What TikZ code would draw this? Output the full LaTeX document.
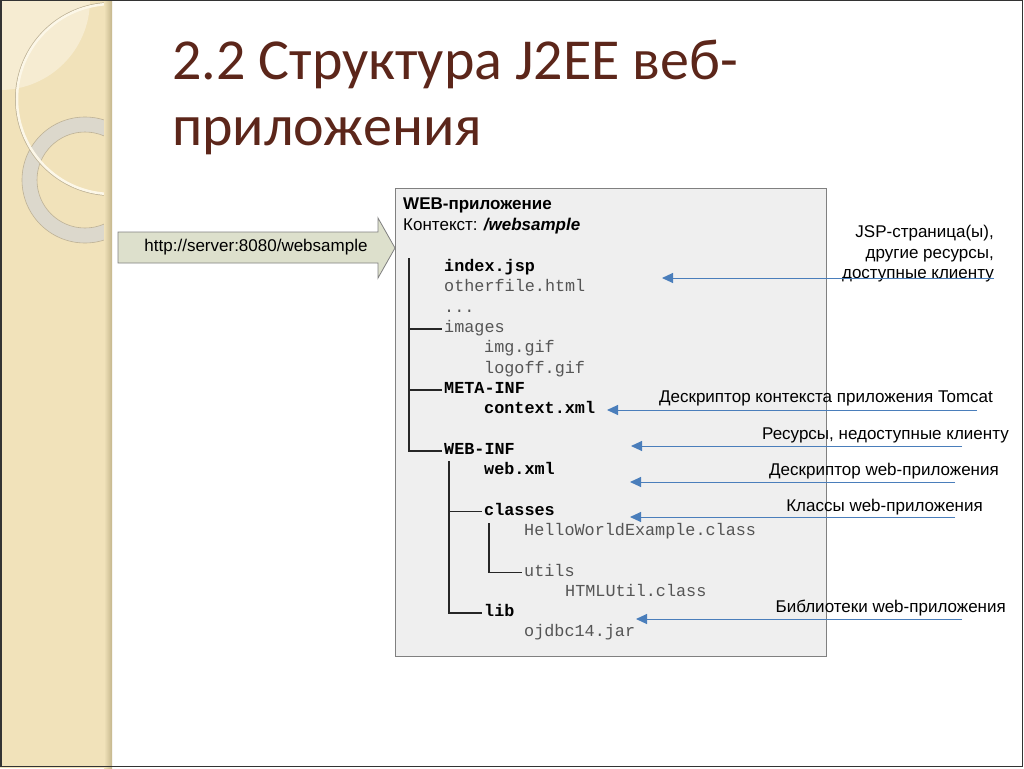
\documentclass[tikz,border=0pt]{standalone}
\usepackage{fontspec}
\setmainfont{Liberation Sans}
\setmonofont{Liberation Mono}
\newfontfamily\titlefont{Carlito}
\usetikzlibrary{arrows.meta}

\definecolor{sidebar}{RGB}{241,226,186}
\definecolor{sideshade}{RGB}{196,182,140}
\definecolor{cornerlight}{RGB}{246,236,210}
\definecolor{ringgray}{RGB}{220,216,204}
\definecolor{ringedge}{RGB}{190,178,150}
\definecolor{ringcream}{RGB}{252,247,232}
\definecolor{titlebrown}{RGB}{92,38,26}
\definecolor{boxfill}{RGB}{239,239,239}
\definecolor{boxline}{RGB}{128,128,128}
\definecolor{urlfill}{RGB}{221,224,204}
\definecolor{filegray}{RGB}{85,85,85}
\definecolor{ptrblue}{RGB}{74,126,187}

\begin{document}
\begin{tikzpicture}[
    x=1pt, y=-1pt,
    title text/.style={anchor=base west, inner sep=0pt, text=titlebrown, font=\titlefont\fontsize{58}{64}\selectfont},
    file node/.style={anchor=west, inner sep=0pt, text height=11pt, text depth=4pt, text=filegray, font=\ttfamily\fontsize{16.8}{20}\selectfont},
    dir node/.style={file node, text=black, font=\ttfamily\bfseries\fontsize{16.8}{20}\selectfont},
    note node/.style={anchor=east, inner sep=0pt, align=right, font=\fontsize{17}{20.5}\selectfont},
    tree line/.style={draw=black!85, line width=1.6pt},
    pointer/.style={draw=ptrblue, line width=1pt, -{Triangle[length=11pt,width=10pt]}},
]
    \useasboundingbox (0,0) rectangle (1024,768);
    \fill[white] (0,0) rectangle (1024,768);

    % decorated side strip
    \fill[sidebar] (0,0) rectangle (112,768);
    \begin{scope}
        \clip (0,0) rectangle (107,768);
        \fill[cornerlight] (0,0) circle (90);
        \fill[ringgray, even odd rule] (85,180) circle (63) (85,180) circle (48);
        \draw[ringedge, line width=0.6pt] (85,180) circle (63) (85,180) circle (48);
        \draw[ringedge, line width=1pt] (112,99) circle (96.5);
        \draw[ringcream, line width=2.5pt] (112,99) circle (95);
    \end{scope}
    \shade[left color=sidebar, right color=sideshade] (104,0) rectangle (112,768);
    \draw[black!80, line width=1.5pt] (0.75,0.75) rectangle (1022.5,766.5);

    % title
    \node[title text] (t1) at (172,79) {2.2 Структура J2EE веб-};
    \node[title text] (t2) at (172,145) {приложения};

    % request arrow
    \draw[boxline, fill=urlfill, line width=0.8pt]
        (118,232) -- (378,232) -- (378,218) -- (395,248) -- (378,278) -- (378,263) -- (118,263) -- cycle;
    \node[font=\fontsize{17}{18}\selectfont] (url) at (256,247) {http://server:8080/websample};

    % application box
    \draw[boxline, fill=boxfill, line width=0.8pt] (395,188) rectangle (826,656);
    \node[anchor=west, inner sep=0pt, font=\bfseries\fontsize{17}{18}\selectfont] (app) at (403,205) {WEB-приложение};
    \node[anchor=west, inner sep=0pt, font=\fontsize{17}{18}\selectfont] (ctxname) at (403,226) {Контекст: \textbf{\textit{/websample}}};

    % directory tree
    \node[dir node]  (idx)      at (444,268.0) {index.jsp};
    \node[file node] (other)    at (444,288.3) {otherfile.html};
    \node[file node] (dots)     at (444,308.6) {...};
    \node[file node] (images)   at (444,328.9) {images};
    \node[file node] (img)      at (484,349.2) {img.gif};
    \node[file node] (logoff)   at (484,369.5) {logoff.gif};
    \node[dir node]  (meta)     at (444,389.8) {META-INF};
    \node[dir node]  (ctx)      at (484,410.1) {context.xml};
    \node[dir node]  (webinf)   at (444,450.7) {WEB-INF};
    \node[dir node]  (webxml)   at (484,471.0) {web.xml};
    \node[dir node]  (classes)  at (484,511.6) {classes};
    \node[file node] (hello)    at (524,531.9) {HelloWorldExample.class};
    \node[file node] (utils)    at (524,572.5) {utils};
    \node[file node] (htmlutil) at (565,592.8) {HTMLUtil.class};
    \node[dir node]  (lib)      at (484,613.1) {lib};
    \node[file node] (ojdbc)    at (524,633.4) {ojdbc14.jar};

    \coordinate (root) at (409,258);
    \coordinate (sub1) at (449,461);
    \coordinate (sub2) at (489,523);
    \draw[tree line] (root) |- ([xshift=-2pt]webinf.west);
    \draw[tree line] (root |- images.west) -- ([xshift=-2pt]images.west);
    \draw[tree line] (root |- meta.west) -- ([xshift=-2pt]meta.west);
    \draw[tree line] (sub1) |- ([xshift=-2pt]lib.west);
    \draw[tree line] (sub1 |- classes.west) -- ([xshift=-2pt]classes.west);
    \draw[tree line] (sub2) |- ([xshift=-2pt]utils.west);

    % notes
    \node[note node] (jsp)   at (994,254) {JSP-страница(ы),\\другие ресурсы,\\доступные клиенту};
    \node[note node] (tomcat) at (993,398) {Дескриптор контекста приложения Tomcat};
    \node[note node] (hidden) at (1009,435) {Ресурсы, недоступные клиенту};
    \node[note node] (wdesc) at (999,471) {Дескриптор web-приложения};
    \node[note node] (cls)   at (983,507) {Классы web-приложения};
    \node[note node] (libs)  at (1006,608) {Библиотеки web-приложения};

    \coordinate (p1s) at (994,278);  \coordinate (p1e) at (662,278);
    \coordinate (p2s) at (977,410);  \coordinate (p2e) at (607,410);
    \coordinate (p3s) at (962,446);  \coordinate (p3e) at (631,446);
    \coordinate (p4s) at (955,482);  \coordinate (p4e) at (630,482);
    \coordinate (p5s) at (955,517);  \coordinate (p5e) at (630,517);
    \coordinate (p6s) at (962,619);  \coordinate (p6e) at (636,619);
    \foreach \i in {1,...,6}
        \draw[pointer] (p\i s) -- (p\i e);
\end{tikzpicture}
\end{document}
